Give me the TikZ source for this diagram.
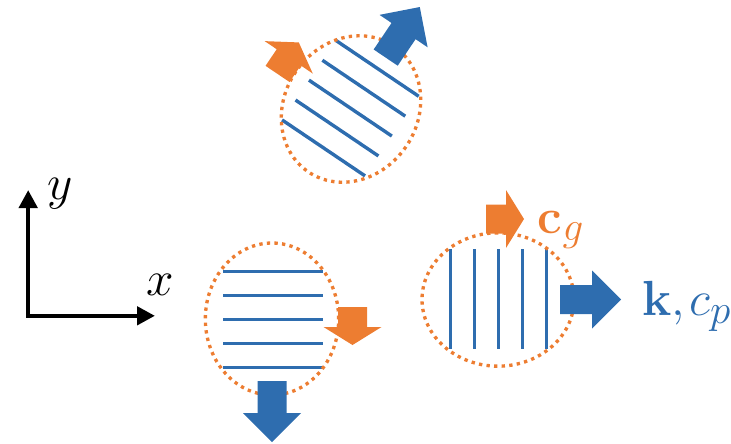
\documentclass[tikz,border=0pt]{standalone}
\usetikzlibrary{arrows.meta}
\definecolor{kblue}{RGB}{46,109,175}
\definecolor{corange}{RGB}{237,125,49}
\tikzset{
  stripe/.style={draw=kblue, line width=2.55pt},
  dotring/.style={draw=corange, line width=2.5pt, dash pattern=on 2.5pt off 3.2pt},
  kfill/.style={fill=kblue},
  cfill/.style={fill=corange},
  axisline/.style={line width=3.4pt, line join=miter,
    {Triangle[length=13.5pt,width=13.5pt]}-{Triangle[length=13.5pt,width=13.5pt]}},
  lbl/.style={inner sep=0pt, anchor=base west, font=\fontsize{20.74}{22}\selectfont, scale=1.784},
  wavegroup/.pic={
    \foreach \yy in {47.6,23.6,-0.4,-24.4,-48.4}{\path[stripe] (-49,\yy) -- (51,\yy);}
    \path[dotring] (0,0) ellipse [x radius=50pt, y radius=57pt];
    \path[kfill] (-14.5,-62) -- (14.5,-62) -- (14.5,-94) -- (29,-94) -- (0,-123)
      -- (-29,-94) -- (-14.5,-94) -- cycle;
    \path[cfill] (66,12) -- (95,12) -- (95,-8) -- (109.5,-8) -- (80.5,-26)
      -- (51.5,-8) -- (66,-8) -- cycle;
  }
}
\newcommand{\subsz}[1]{\mbox{\fontsize{17.28}{18}\selectfont$#1$}}
\begin{document}
\begin{tikzpicture}[x=0.75pt,y=0.75pt]
\useasboundingbox (0,0) rectangle (731,-443);
% wave packets
\pic[rotate=146] (top) at (351,-109) {wavegroup};
\pic (lower) at (272,-319) {wavegroup};
\pic[rotate=90] (right) at (498,-299.5) {wavegroup};
% axes
\coordinate (O) at (28.2,-315.8);
\coordinate (ytip) at (28.2,-190);
\coordinate (xtip) at (155,-315.8);
\draw[axisline] (ytip) -- (O) -- (xtip);
\node[lbl] (ylab) at (47.5,-199.6) {$y$};
\node[lbl] (xlab) at (146,-295) {$x$};
% labels
\node[lbl, text=corange] (cg) at (537.5,-233.3) {$\mathbf{c}_{\subsz{g}}$};
\node[lbl, text=kblue] (kcp) at (642,-315.7) {$\mathbf{k},\mkern-1.5mu c_{\subsz{p}}$};
\end{tikzpicture}
\end{document}
